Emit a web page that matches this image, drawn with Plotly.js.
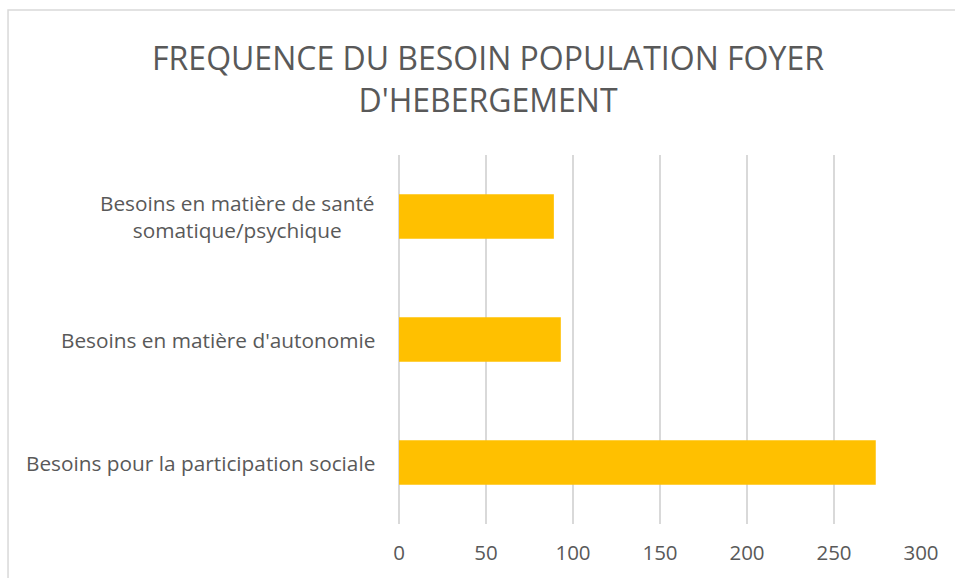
<!DOCTYPE html>
<html>
<head>
<meta charset="utf-8">
<script src="https://cdn.plot.ly/plotly-3.0.1.min.js"></script>
<style>
  body { margin: 0; background: #fff; }
  #chart { width: 955px; height: 578px; }
</style>
</head>
<body>
<div id="chart"></div>
<script>
var categories = [
  'Besoins pour la participation sociale',
  "Besoins en matière d'autonomie",
  'Besoins en matière de santé<br>somatique/psychique'
];
var values = [274, 93, 89];
var xTicks = [0, 50, 100, 150, 200, 250, 300];

var textColor = '#595959';
var gridColor = '#d9d9d9';

var data = [{
  type: 'bar',
  orientation: 'h',
  y: categories,
  x: values,
  marker: { color: '#FFC000' },
  width: 0.36,
  hoverinfo: 'x+y'
}];

// category labels drawn as annotations so wrapped lines are centred
var labelNotes = categories.map(function (c) {
  return {
    xref: 'paper', yref: 'y',
    x: 0, y: c,
    xanchor: 'right', yanchor: 'middle',
    xshift: -22,
    align: 'center',
    showarrow: false,
    text: c,
    font: { family: 'Open Sans, sans-serif', size: 20.8, color: textColor }
  };
});

var layout = {
  width: 955,
  height: 578,
  margin: { l: 399, r: 34, t: 155, b: 54 },
  paper_bgcolor: '#ffffff',
  plot_bgcolor: '#ffffff',
  showlegend: false,
  title: {
    text: "FREQUENCE DU BESOIN POPULATION FOYER<br>D'HEBERGEMENT",
    font: { family: 'Open Sans, sans-serif', size: 32, color: textColor },
    x: 0.511, xanchor: 'center',
    y: 0.879, yanchor: 'top'
  },
  xaxis: {
    range: [0, 300],
    tickvals: xTicks,
    showgrid: true,
    gridcolor: gridColor,
    gridwidth: 1.5,
    zeroline: true,
    zerolinecolor: gridColor,
    zerolinewidth: 1.5,
    showline: false,
    ticks: '',
    ticklabelstandoff: 14,
    tickfont: { family: 'Open Sans, sans-serif', size: 20.5, color: textColor },
    fixedrange: true
  },
  yaxis: {
    categoryorder: 'array',
    categoryarray: categories,
    showticklabels: false,
    showgrid: false,
    zeroline: false,
    showline: false,
    ticks: '',
    fixedrange: true
  },
  annotations: labelNotes,
  shapes: [{
    type: 'rect',
    xref: 'paper', yref: 'paper',
    x0: -0.749, x1: 2,
    y0: -1, y1: 1.393,
    line: { color: gridColor, width: 1.5 },
    fillcolor: 'rgba(0,0,0,0)',
    layer: 'below'
  }]
};

Plotly.newPlot('chart', data, layout, { displayModeBar: false, staticPlot: true });
</script>
</body>
</html>
